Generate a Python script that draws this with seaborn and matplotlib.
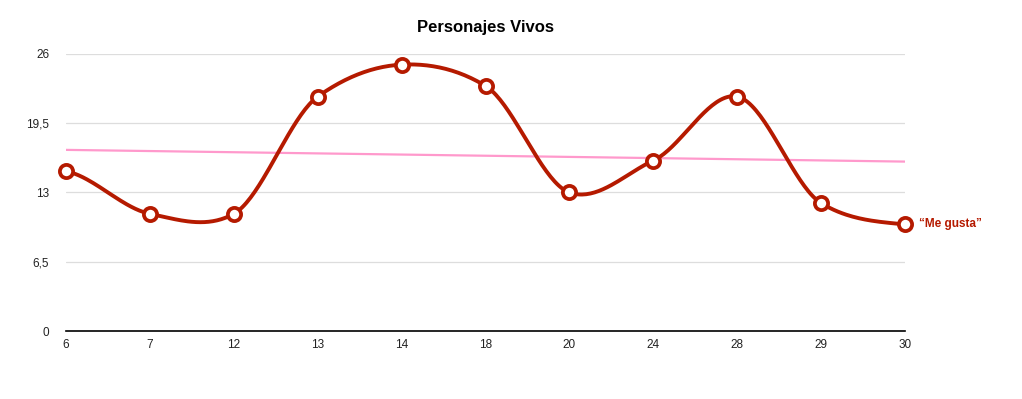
import numpy as np
import pandas as pd
import matplotlib
matplotlib.use('Agg')
import matplotlib.pyplot as plt
import seaborn as sns

# data
categories = ['6', '7', '12', '13', '14', '18', '20', '24', '28', '29', '30']
me_gusta = [15, 11, 11, 22, 25, 23, 13, 16, 22, 12, 10]
trend_start, trend_end = 17.0, 15.9
y_ticks = [0, 6.5, 13, 19.5, 26]
y_tick_labels = ['0', '6,5', '13', '19,5', '26']

RED = '#B51A00'
PINK = '#FF99CC'

sns.set_theme(style='white')
plt.rcParams['font.family'] = ['Liberation Sans', 'DejaVu Sans']


def smooth(y, steps=40, k=0.4):
    # cardinal (Hermite) spline through the points, drawing only
    y = np.asarray(y, dtype=float)
    p = np.concatenate([[y[0]], y, [y[-1]]])
    m = k * (p[2:] - p[:-2])
    xs, ys = [], []
    t = np.linspace(0, 1, steps, endpoint=False)
    h00 = 2 * t ** 3 - 3 * t ** 2 + 1
    h10 = t ** 3 - 2 * t ** 2 + t
    h01 = -2 * t ** 3 + 3 * t ** 2
    h11 = t ** 3 - t ** 2
    for i in range(len(y) - 1):
        xs.append(i + t)
        ys.append(h00 * y[i] + h10 * m[i] + h01 * y[i + 1] + h11 * m[i + 1])
    xs.append([len(y) - 1])
    ys.append([y[-1]])
    return np.concatenate(xs), np.concatenate(ys)


idx = np.arange(len(categories))
cx, cy = smooth(me_gusta)
curve = pd.DataFrame({'x': cx, 'y': cy})
points = pd.DataFrame({'x': idx, 'y': me_gusta})
trend = pd.DataFrame({'x': [idx[0], idx[-1]], 'y': [trend_start, trend_end]})

fig = plt.figure(figsize=(10.22, 3.99), dpi=100)
ax = fig.add_axes([0.0646, 0.1704, 0.821, 0.6943])

for yt in y_ticks[1:]:
    ax.axhline(yt, color='#DDDDDD', lw=0.9, zorder=0)

sns.lineplot(data=trend, x='x', y='y', ax=ax, color=PINK, lw=1.6, zorder=2)
sns.lineplot(data=curve, x='x', y='y', ax=ax, color=RED, lw=2.8, zorder=3)
ax.plot(points['x'], points['y'], ls='none', marker='o', ms=9.5,
        mfc='white', mec=RED, mew=2.7, zorder=4, clip_on=False)

ax.set_xlim(0, len(categories) - 1)
ax.set_ylim(0, 26)
ax.set_xticks(idx)
ax.set_xticklabels(categories, fontsize=8.5, color='#222222')
ax.set_yticks(y_ticks)
ax.set_yticklabels(y_tick_labels, fontsize=8.5, color='#222222')
ax.tick_params(axis='both', length=0, pad=6)
ax.tick_params(axis='y', pad=12)
ax.set_xlabel('')
ax.set_ylabel('')

for side in ['left', 'right', 'top']:
    ax.spines[side].set_visible(False)
ax.spines['bottom'].set_color('black')
ax.spines['bottom'].set_linewidth(1.2)

ax.text(idx[-1] + 0.16, me_gusta[-1], '\u201cMe gusta\u201d', color=RED,
        fontsize=8.5, fontweight='bold', va='center', ha='left')

fig.text(0.4755, 0.93, 'Personajes Vivos', ha='center', va='center',
         fontsize=12, fontweight='bold', color='black')

fig.savefig('out.png', dpi=100, facecolor='white')
